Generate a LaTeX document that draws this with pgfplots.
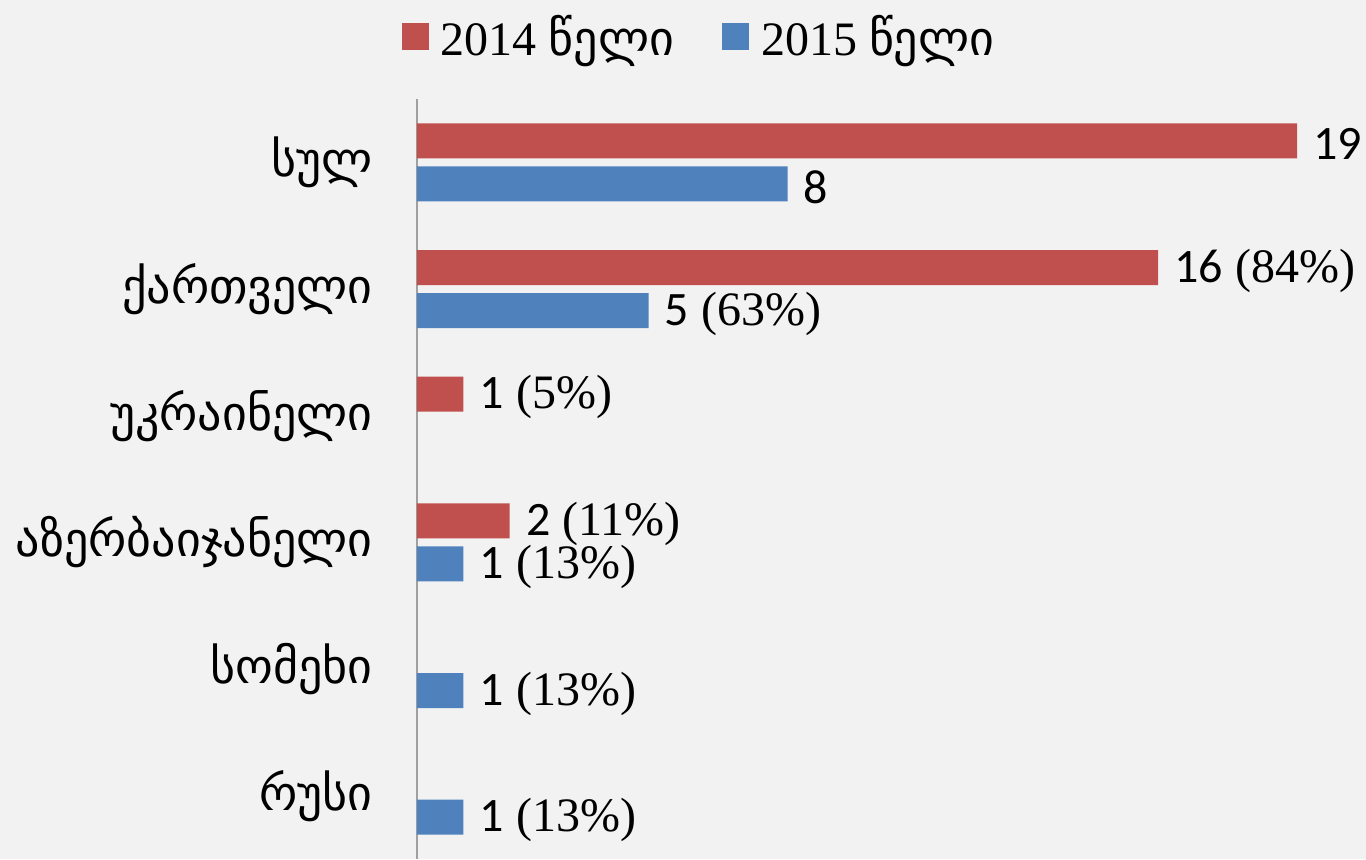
\documentclass[border=0pt]{standalone}
\usepackage{pgfplots}
\pgfplotsset{compat=1.18}
\usepackage{fontspec}
\setmainfont{Liberation Serif}
\newfontfamily\geo{DejaVu Sans}
\newfontfamily\calib{Carlito}
\definecolor{bg}{HTML}{F2F2F2}
\definecolor{cred}{HTML}{C0504D}
\definecolor{cblue}{HTML}{4F81BD}
\definecolor{axgray}{HTML}{A0A0A0}
\begin{document}
\begin{tikzpicture}
\fill[bg] (-208.5pt,0pt) rectangle (474.5pt,429.5pt);
\begin{axis}[
  at={(0pt,0pt)}, anchor=south west,
  scale only axis,
  width=463.2pt, height=380pt,
  xmin=0, xmax=20,
  ymin=-0.5, ymax=5.5,
  y dir=reverse,
  hide x axis,
  axis y line*=left,
  y axis line style={draw=axgray, line width=1pt},
  ytick={0,1,2,3,4,5},
  yticklabels={სულ,ქართველი,უკრაინელი,აზერბაიჯანელი,სომეხი,რუსი},
  major tick length=0pt,
  yticklabel style={font=\geo\fontsize{24}{28}\selectfont, anchor=east, inner sep=0pt, xshift=-22pt},
  xbar, bar width=17.5pt,
  point meta=explicit symbolic,
  nodes near coords,
  every node near coord/.append style={anchor=west, inner xsep=8pt, yshift=-1.5pt, font=\fontsize{24}{28}\selectfont, text=black},
  legend columns=2,
  legend style={at={(0.3056,1.0816)}, anchor=center, draw=none, fill=none,
    font=\fontsize{24}{28}\selectfont,
    /tikz/every odd column/.append style={column sep=4pt},
    /tikz/every even column/.append style={column sep=22pt}},
  legend image code/.code={\fill[#1] (0pt,-6.75pt) rectangle (13.5pt,6.75pt);},
  clip=false,
]
\addplot[fill=cred, draw=none, bar shift=10.75pt] coordinates {
  (19,0) [{\calib 19}]
  (16,1) [{\calib 16} (84\%)]
  (1,2) [{\calib 1} (5\%)]
  (2,3) [{\calib 2} (11\%)]
};
\addlegendentry{2014 {\geo წელი}}
\addplot[fill=cblue, draw=none, bar shift=-10.75pt] coordinates {
  (8,0) [{\calib 8}]
  (5,1) [{\calib 5} (63\%)]
  (1,3) [{\calib 1} (13\%)]
  (1,4) [{\calib 1} (13\%)]
  (1,5) [{\calib 1} (13\%)]
};
\addlegendentry{2015 {\geo წელი}}
\end{axis}
\pgfresetboundingbox
\path (-208.5pt,0pt) rectangle (474.5pt,429.5pt);
\end{tikzpicture}
\end{document}
